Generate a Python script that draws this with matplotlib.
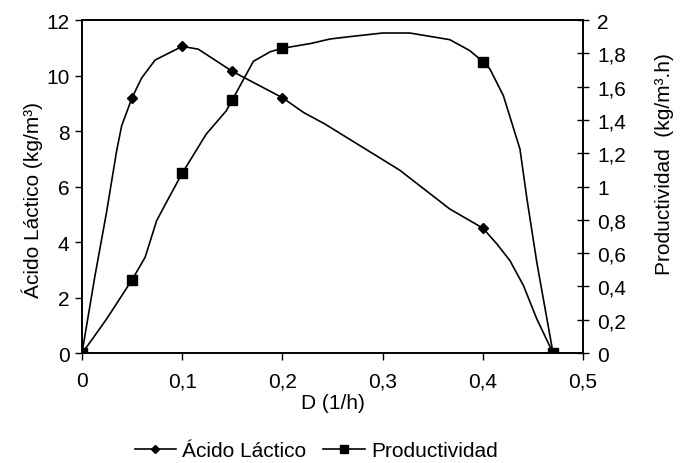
import matplotlib
matplotlib.use('Agg')
import matplotlib.pyplot as plt
from matplotlib.lines import Line2D
from matplotlib.ticker import FuncFormatter, MultipleLocator

plt.rcParams['font.family'] = ['Liberation Sans', 'DejaVu Sans']
plt.rcParams['font.size'] = 15

# model curves
d_acido = [0, 0.013, 0.0245, 0.0346, 0.0396, 0.05, 0.0595, 0.073, 0.1, 0.116,
           0.15, 0.2, 0.221, 0.2425, 0.317, 0.367, 0.4, 0.414, 0.427, 0.4405,
           0.4538, 0.47]
acido = [0, 2.79, 5.07, 7.29, 8.19, 9.2, 9.91, 10.56, 11.05, 10.95,
         10.15, 9.2, 8.67, 8.25, 6.59, 5.19, 4.5, 3.93, 3.33, 2.43,
         1.23, 0]

d_prod = [0, 0.008, 0.0245, 0.05, 0.063, 0.0745, 0.086, 0.1, 0.124, 0.144,
          0.15, 0.171, 0.188, 0.2, 0.229, 0.2475, 0.267, 0.3, 0.327, 0.367,
          0.387, 0.4, 0.407, 0.4205, 0.437, 0.444, 0.4538, 0.47]
prod = [0, 0.064, 0.204, 0.44, 0.575, 0.795, 0.925, 1.08, 1.315, 1.455,
        1.52, 1.752, 1.81, 1.83, 1.86, 1.886, 1.90, 1.922, 1.922, 1.882,
        1.816, 1.75, 1.706, 1.545, 1.225, 0.925, 0.545, 0]

# experimental points (markers)
d_exp = [0, 0.05, 0.1, 0.15, 0.2, 0.4, 0.47]
acido_exp = [0, 9.2, 11.05, 10.15, 9.2, 4.5, 0]
prod_exp = [0, 0.44, 1.08, 1.52, 1.83, 1.75, 0]


def coma(v, pos):
    return '{:g}'.format(round(v, 3)).replace('.', ',')


fig = plt.figure(figsize=(6.86, 4.64), dpi=100)
ax = fig.add_axes([0.1195, 0.237, 0.7305, 0.7177])
ax2 = ax.twinx()

ax.plot(d_acido, acido, color='black', lw=1.2)
ax.plot(d_exp, acido_exp, 'D', color='black', ms=5)
ax2.plot(d_prod, prod, color='black', lw=1.2)
ax2.plot(d_exp, prod_exp, 's', color='black', ms=6.5)

ax.set_xlim(0, 0.5)
ax.set_ylim(0, 12)
ax2.set_ylim(0, 2)
ax.xaxis.set_major_locator(MultipleLocator(0.1))
ax.yaxis.set_major_locator(MultipleLocator(2))
ax2.yaxis.set_major_locator(MultipleLocator(0.2))
ax.xaxis.set_major_formatter(FuncFormatter(coma))
ax2.yaxis.set_major_formatter(FuncFormatter(coma))

ax.tick_params(direction='out', length=5, width=1, colors='black', pad=4)
ax.tick_params(axis='x', pad=8)
ax2.tick_params(direction='inout', length=8, width=1, pad=6)
for a in (ax, ax2):
    for s in a.spines.values():
        s.set_linewidth(1.2)

ax.set_xlabel('D (1/h)', labelpad=2)
ax.set_ylabel('Ácido Láctico (kg/m³)')
ax2.set_ylabel('Productividad  (kg/m³.h)')
ax.yaxis.set_label_coords(-0.078, 0.4625)
ax2.yaxis.set_label_coords(1.1437, 0.57)

handles = [Line2D([], [], color='black', lw=1.2, marker='D', ms=4),
           Line2D([], [], color='black', lw=1.2, marker='s', ms=5.5)]
fig.legend(handles, ['Ácido Láctico', 'Productividad'], loc='center',
           bbox_to_anchor=(0.461, 0.027), ncol=2, frameon=False,
           handlelength=2.0, handletextpad=0.3, columnspacing=0.8,
           borderpad=0)

fig.savefig('out.png', dpi=100)
